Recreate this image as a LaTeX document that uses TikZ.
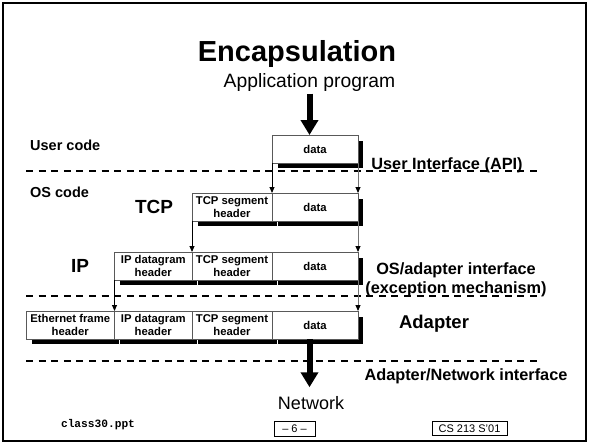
\documentclass[tikz,border=0pt]{standalone}
\usepackage{fontspec}
\setmainfont{Liberation Sans}
\newfontfamily\monofont{Liberation Mono}
\usetikzlibrary{arrows.meta,backgrounds}
\begin{document}
\begin{tikzpicture}[x=1pt,y=-1pt,
  pbox/.style={draw=black!65, line width=0.9pt, fill=white, anchor=north west,
    inner sep=0pt, outer sep=0pt, align=center, minimum height=28pt,
    font=\bfseries\fontsize{11.3}{13.3}\selectfont},
  shad/.style={fill=black, draw=white, line width=0.7pt},
  dline/.style={line width=2pt, dash pattern=on 7pt off 5.6pt},
  thinarr/.style={line width=0.9pt, -{Triangle[length=6pt,width=5pt,color=black]}},
  grayarr/.style={thinarr, draw=black!55},
  bigarr/.style={line width=6pt, -{Triangle[length=15pt,width=17pt]}},
  lbl/.style={font=\bfseries\fontsize{16.3}{19.8}\selectfont, inner sep=0pt},
  smallbox/.style={draw, line width=0.8pt, inner sep=0pt, font=\fontsize{11}{12}\selectfont}
]
\useasboundingbox (0,0) rectangle (589,444);
% frame
\draw[line width=2.5pt] (3,3) rectangle (586,441);

% titles
\node[font=\bfseries\fontsize{29}{32}\selectfont, anchor=base, inner sep=0pt] (title) at (297,61.7) {Encapsulation};
\node[font=\fontsize{19.3}{22}\selectfont, anchor=base, inner sep=0pt] (app) at (309.5,87.5) {Application program};

% side labels
\node[anchor=base west, inner sep=0pt, font=\bfseries\fontsize{14.5}{16}\selectfont] (uc) at (30,150) {User code};
\node[anchor=base west, inner sep=0pt, font=\bfseries\fontsize{14.5}{16}\selectfont] (osc) at (30,197) {OS code};
\node[font=\bfseries\fontsize{19}{22}\selectfont, inner sep=0pt] (tcp) at (154,207) {TCP};
\node[font=\bfseries\fontsize{19}{22}\selectfont, inner sep=0pt] (ip) at (80,266) {IP};

% dashed lines
\draw[dline] (26,171) -- (540,171);
\draw[dline] (26,295.5) -- (540,295.5);
\draw[dline] (26,361) -- (540,361);

% right labels
\node[lbl, anchor=base] (ui) at (447,169.5) {User Interface (API)};
\node[lbl, anchor=base] (osa1) at (456,274) {OS/adapter interface};
\node[lbl, anchor=base] (osa2) at (456,293.5) {(exception mechanism)};
\node[font=\bfseries\fontsize{18.5}{20}\selectfont, inner sep=0pt] (adp) at (434,324) {Adapter};
\node[lbl] (ani) at (466,376) {Adapter/Network interface};

% boxes
\node[pbox, minimum width=86pt] (d1) at (272,135) {data};

\node[pbox, minimum width=80pt] (h2) at (192,193) {TCP segment\\header};
\node[pbox, minimum width=86pt] (d2) at (272,193) {data};

\node[pbox, minimum width=77.5pt] (i3) at (114.5,252) {IP datagram\\header};
\node[pbox, minimum width=80pt] (h3) at (192,252) {TCP segment\\header};
\node[pbox, minimum width=86pt] (d3) at (272,252) {data};

\node[pbox, minimum width=88.5pt] (e4) at (26,311) {Ethernet frame\\header};
\node[pbox, minimum width=77.5pt] (i4) at (114.5,311) {IP datagram\\header};
\node[pbox, minimum width=80pt] (h4) at (192,311) {TCP segment\\header};
\node[pbox, minimum width=86pt] (d4) at (272,311) {data};

% shadows
\begin{scope}[on background layer]
  \fill[white] (0,0) rectangle (589,444);
  \foreach \n in {d1,h2,d2,i3,h3,d3,e4,i4,h4,d4}
    \path[shad] ([shift={(5,5)}]\n.north west) rectangle ([shift={(5,5)}]\n.south east);
\end{scope}

% connectors
\draw[thinarr] (d1.south west) -- (d2.north west);
\draw[grayarr] (d1.south east) -- (d2.north east);
\draw[thinarr] (h2.south west) -- (h3.north west);
\draw[grayarr] (d2.south east) -- (d3.north east);
\draw[thinarr] (i3.south west) -- (i4.north west);
\draw[grayarr] (d3.south east) -- (d4.north east);

% network
\node[font=\fontsize{18}{20}\selectfont, anchor=base, inner sep=0pt] (net) at (311,409.5) {Network};

% big arrows
\draw[bigarr] ([yshift=-2pt]app.south) -- (app.south |- d1.north);
\draw[bigarr] ([xshift=-1.5pt]d4.south -| net.north) -- ([xshift=-1.5pt,yshift=9pt]net.north);

% footer
\node[font=\monofont\bfseries\fontsize{11.2}{12}\selectfont, inner sep=0pt] (cls) at (98,425) {class30.ppt};
\node[smallbox, minimum width=41pt, minimum height=14.5pt] (pg) at (294.5,429) {\textendash\ 6 \textendash};
\node[smallbox, minimum width=75pt, minimum height=13.5pt] (cs) at (469.5,428.5) {CS 213 S'01};
\end{tikzpicture}
\end{document}
